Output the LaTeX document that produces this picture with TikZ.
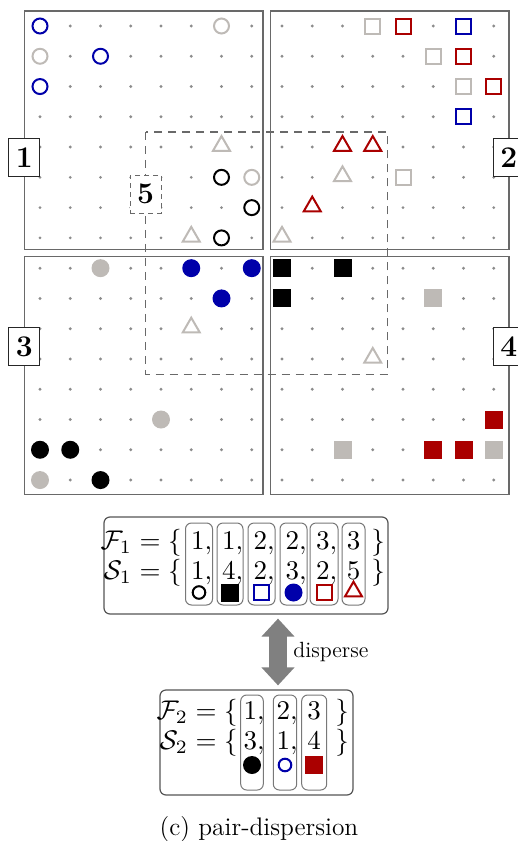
\documentclass[tikz,border=0pt]{standalone}
\usepackage{fontspec}
\usepackage{graphicx}
\usetikzlibrary{shapes.geometric,arrows.meta}
\definecolor{mblue}{RGB}{0,0,170}
\definecolor{mred}{RGB}{170,0,0}
\definecolor{mgray}{RGB}{190,186,182}
\definecolor{framec}{RGB}{105,105,105}
\definecolor{dotc}{RGB}{140,140,140}
\definecolor{arrowc}{RGB}{128,128,128}
\definecolor{boxc}{RGB}{85,85,85}
\definecolor{colc}{RGB}{120,120,120}
\newcommand{\setscl}[1]{\scalebox{1.35}{#1}}
\tikzset{
  ocirc/.style={circle, draw, line width=1pt, fill=white, minimum size=7.5pt, inner sep=0pt},
  socirc/.style={circle, draw, line width=1pt, fill=white, minimum size=6.3pt, inner sep=0pt},
  fcirc/.style={circle, fill, minimum size=9pt, inner sep=0pt},
  osq/.style={rectangle, draw, line width=1pt, fill=white, minimum size=7.5pt, inner sep=0pt},
  fsq/.style={rectangle, fill, minimum size=9pt, inner sep=0pt},
  otri/.style={regular polygon, regular polygon sides=3, draw, line width=1pt, fill=white, minimum size=9.8pt, inner sep=0pt},
  frame/.style={draw=framec, line width=0.75pt},
  dashbox/.style={draw=framec, line width=0.6pt, dash pattern=on 4pt off 3pt},
  lab/.style={draw=black!85, fill=white, line width=0.5pt, minimum width=15.5pt, minimum height=19pt, inner sep=0pt, font=\fontsize{15}{18}\selectfont\bfseries},
  setbox/.style={draw=boxc, line width=0.6pt, rounded corners=3pt, inner sep=0pt},
  colbox/.style={draw=colc, line width=0.5pt, rounded corners=3pt, inner sep=0pt},
  txt/.style={inner sep=0pt, font=\fontsize{10}{12}\selectfont},
  bigarrow/.style={draw=arrowc, line width=9pt, {Triangle[width=16pt,length=9pt]}-{Triangle[width=16pt,length=9pt]}, shorten <=2pt, shorten >=2pt},
}
\begin{document}
\begin{tikzpicture}[x=0.5pt,y=-0.5pt]
\useasboundingbox (0,0) rectangle (518,841);

\begin{scope}[shift={(40,26)}, x=15.125pt, y=-15.135pt]
  % grid dots
  \foreach \i in {0,...,15} \foreach \j in {0,...,15}
    \fill[dotc] (\i,\j) circle (0.8pt);
  % quadrant frames
  \draw[frame] (-0.52,-0.5) rectangle (7.38,7.38);
  \draw[frame] (7.62,-0.5) rectangle (15.5,7.38);
  \draw[frame] (-0.52,7.62) rectangle (7.38,15.48);
  \draw[frame] (7.62,7.62) rectangle (15.5,15.48);
  % dashed region 5
  \draw[dashbox] (3.5,3.5) rectangle (11.5,11.5);
  % open circles
  \foreach \i/\j/\c in {0/0/mblue, 6/0/mgray, 0/1/mgray, 2/1/mblue, 0/2/mblue, 6/5/black, 7/5/mgray, 7/6/black, 6/7/black}
    \node[ocirc, draw=\c] (oc-\i-\j) at (\i,\j) {};
  % open triangles
  \foreach \i/\j/\c in {6/4/mgray, 5/7/mgray, 10/4/mred, 11/4/mred, 10/5/mgray, 9/6/mred, 8/7/mgray, 5/10/mgray, 11/11/mgray}
    \node[otri, draw=\c] (ot-\i-\j) at (\i,\j-0.04) {};
  % open squares
  \foreach \i/\j/\c in {11/0/mgray, 12/0/mred, 14/0/mblue, 13/1/mgray, 14/1/mred, 14/2/mgray, 15/2/mred, 14/3/mblue, 12/5/mgray}
    \node[osq, draw=\c] (os-\i-\j) at (\i,\j) {};
  % filled circles
  \foreach \i/\j/\c in {2/8/mgray, 5/8/mblue, 7/8/mblue, 6/9/mblue, 4/13/mgray, 0/14/black, 1/14/black, 0/15/mgray, 2/15/black}
    \node[fcirc, fill=\c] (fc-\i-\j) at (\i,\j) {};
  % filled squares
  \foreach \i/\j/\c in {8/8/black, 10/8/black, 8/9/black, 13/9/mgray, 15/13/mred, 10/14/mgray, 13/14/mred, 14/14/mred, 15/14/mgray}
    \node[fsq, fill=\c] (fs-\i-\j) at (\i,\j) {};
  % labels
  \node[lab] (l1) at (-0.52,4.36) {1};
  \node[lab] (l2) at (15.5,4.36) {2};
  \node[lab] (l3) at (-0.52,10.6) {3};
  \node[lab] (l4) at (15.5,10.6) {4};
  \node[lab, dash pattern=on 2.5pt off 2pt, draw=framec] (l5) at (3.49,5.55) {5};
\end{scope}

% ---------- set 1 ----------
\node[setbox, minimum width=142pt, minimum height=48.5pt] (set1) at (246,565.5) {};
\foreach \n/\x/\w in {1/199/13.5, 2/230/13, 3/261.5/13.5, 4/293.5/13.5, 5/324/14, 6/353.5/11.5}
  \node[colbox, minimum width=\w pt, minimum height=41pt] (ca-\n) at (\x,564) {};
\node[txt, anchor=base east] (f1) at (182,549) {\setscl{$\mathcal{F}_1 = \{$}};
\node[txt, anchor=base east] (s1) at (182,579) {\setscl{$\mathcal{S}_1 = \{$}};
\foreach \n/\x/\a/\b in {1/199/1/1, 2/230/1/4, 3/261.5/2/2, 4/293.5/2/3, 5/324/3/2} {
  \node[txt, anchor=base] (fa-\n) at (\x+2.5,549) {\setscl{$\a,$}};
  \node[txt, anchor=base] (sa-\n) at (\x+2.5,579) {\setscl{$\b,$}};
}
\node[txt, anchor=base] (fa-6) at (353.5,549) {\setscl{$3$}};
\node[txt, anchor=base] (sa-6) at (353.5,579) {\setscl{$5$}};
\node[txt, anchor=base] (fe1) at (378,549) {\setscl{$\}$}};
\node[txt, anchor=base] (se1) at (378,579) {\setscl{$\}$}};
\node[socirc, draw=black] (k1) at (199,592.5) {};
\node[fsq, fill=black] (k2) at (230,592.5) {};
\node[osq, draw=mblue] (k3) at (261.5,592.5) {};
\node[fcirc, fill=mblue] (k4) at (293.5,592.5) {};
\node[osq, draw=mred] (k5) at (324,592.5) {};
\node[otri, draw=mred] (k6) at (353.5,591.5) {};

% ---------- set 2 ----------
\node[setbox, minimum width=96.5pt, minimum height=52.5pt] (set2) at (256.5,742.5) {};
\foreach \n/\x/\w in {1/252/11.3, 2/285/11.7, 3/314.2/12.5}
  \node[colbox, minimum width=\w pt, minimum height=47.5pt] (cb-\n) at (\x,742.5) {};
\node[txt, anchor=base east] (f2) at (238,719.5) {\setscl{$\mathcal{F}_2 = \{$}};
\node[txt, anchor=base east] (s2) at (238,749.5) {\setscl{$\mathcal{S}_2 = \{$}};
\node[txt, anchor=base] (fb-1) at (254,719.5) {\setscl{$1,$}};
\node[txt, anchor=base] (fb-2) at (287,719.5) {\setscl{$2,$}};
\node[txt, anchor=base] (fb-3) at (314.2,719.5) {\setscl{$3$}};
\node[txt, anchor=base] (sb-1) at (254,749.5) {\setscl{$3,$}};
\node[txt, anchor=base] (sb-2) at (287,749.5) {\setscl{$1,$}};
\node[txt, anchor=base] (sb-3) at (314.2,749.5) {\setscl{$4$}};
\node[txt, anchor=base] (fe2) at (342,719.5) {\setscl{$\}$}};
\node[txt, anchor=base] (se2) at (342,749.5) {\setscl{$\}$}};
\node[fcirc, fill=black] (q1) at (252,765) {};
\node[socirc, draw=mblue] (q2) at (285,765) {};
\node[fsq, fill=mred] (q3) at (314.2,765) {};

% ---------- arrow ----------
\coordinate (ax) at (278,652);
\draw[bigarrow] (set1.south -| ax) -- (set2.north -| ax);
\node[inner sep=0pt, anchor=base west, font=\fontsize{11}{13}\selectfont] (disp) at (293,657) {disperse};

% ---------- caption ----------
\node[inner sep=0pt, font=\fontsize{12.7}{15}\selectfont] (cap) at (259,829) {(c) pair-dispersion};
\end{tikzpicture}
\end{document}
